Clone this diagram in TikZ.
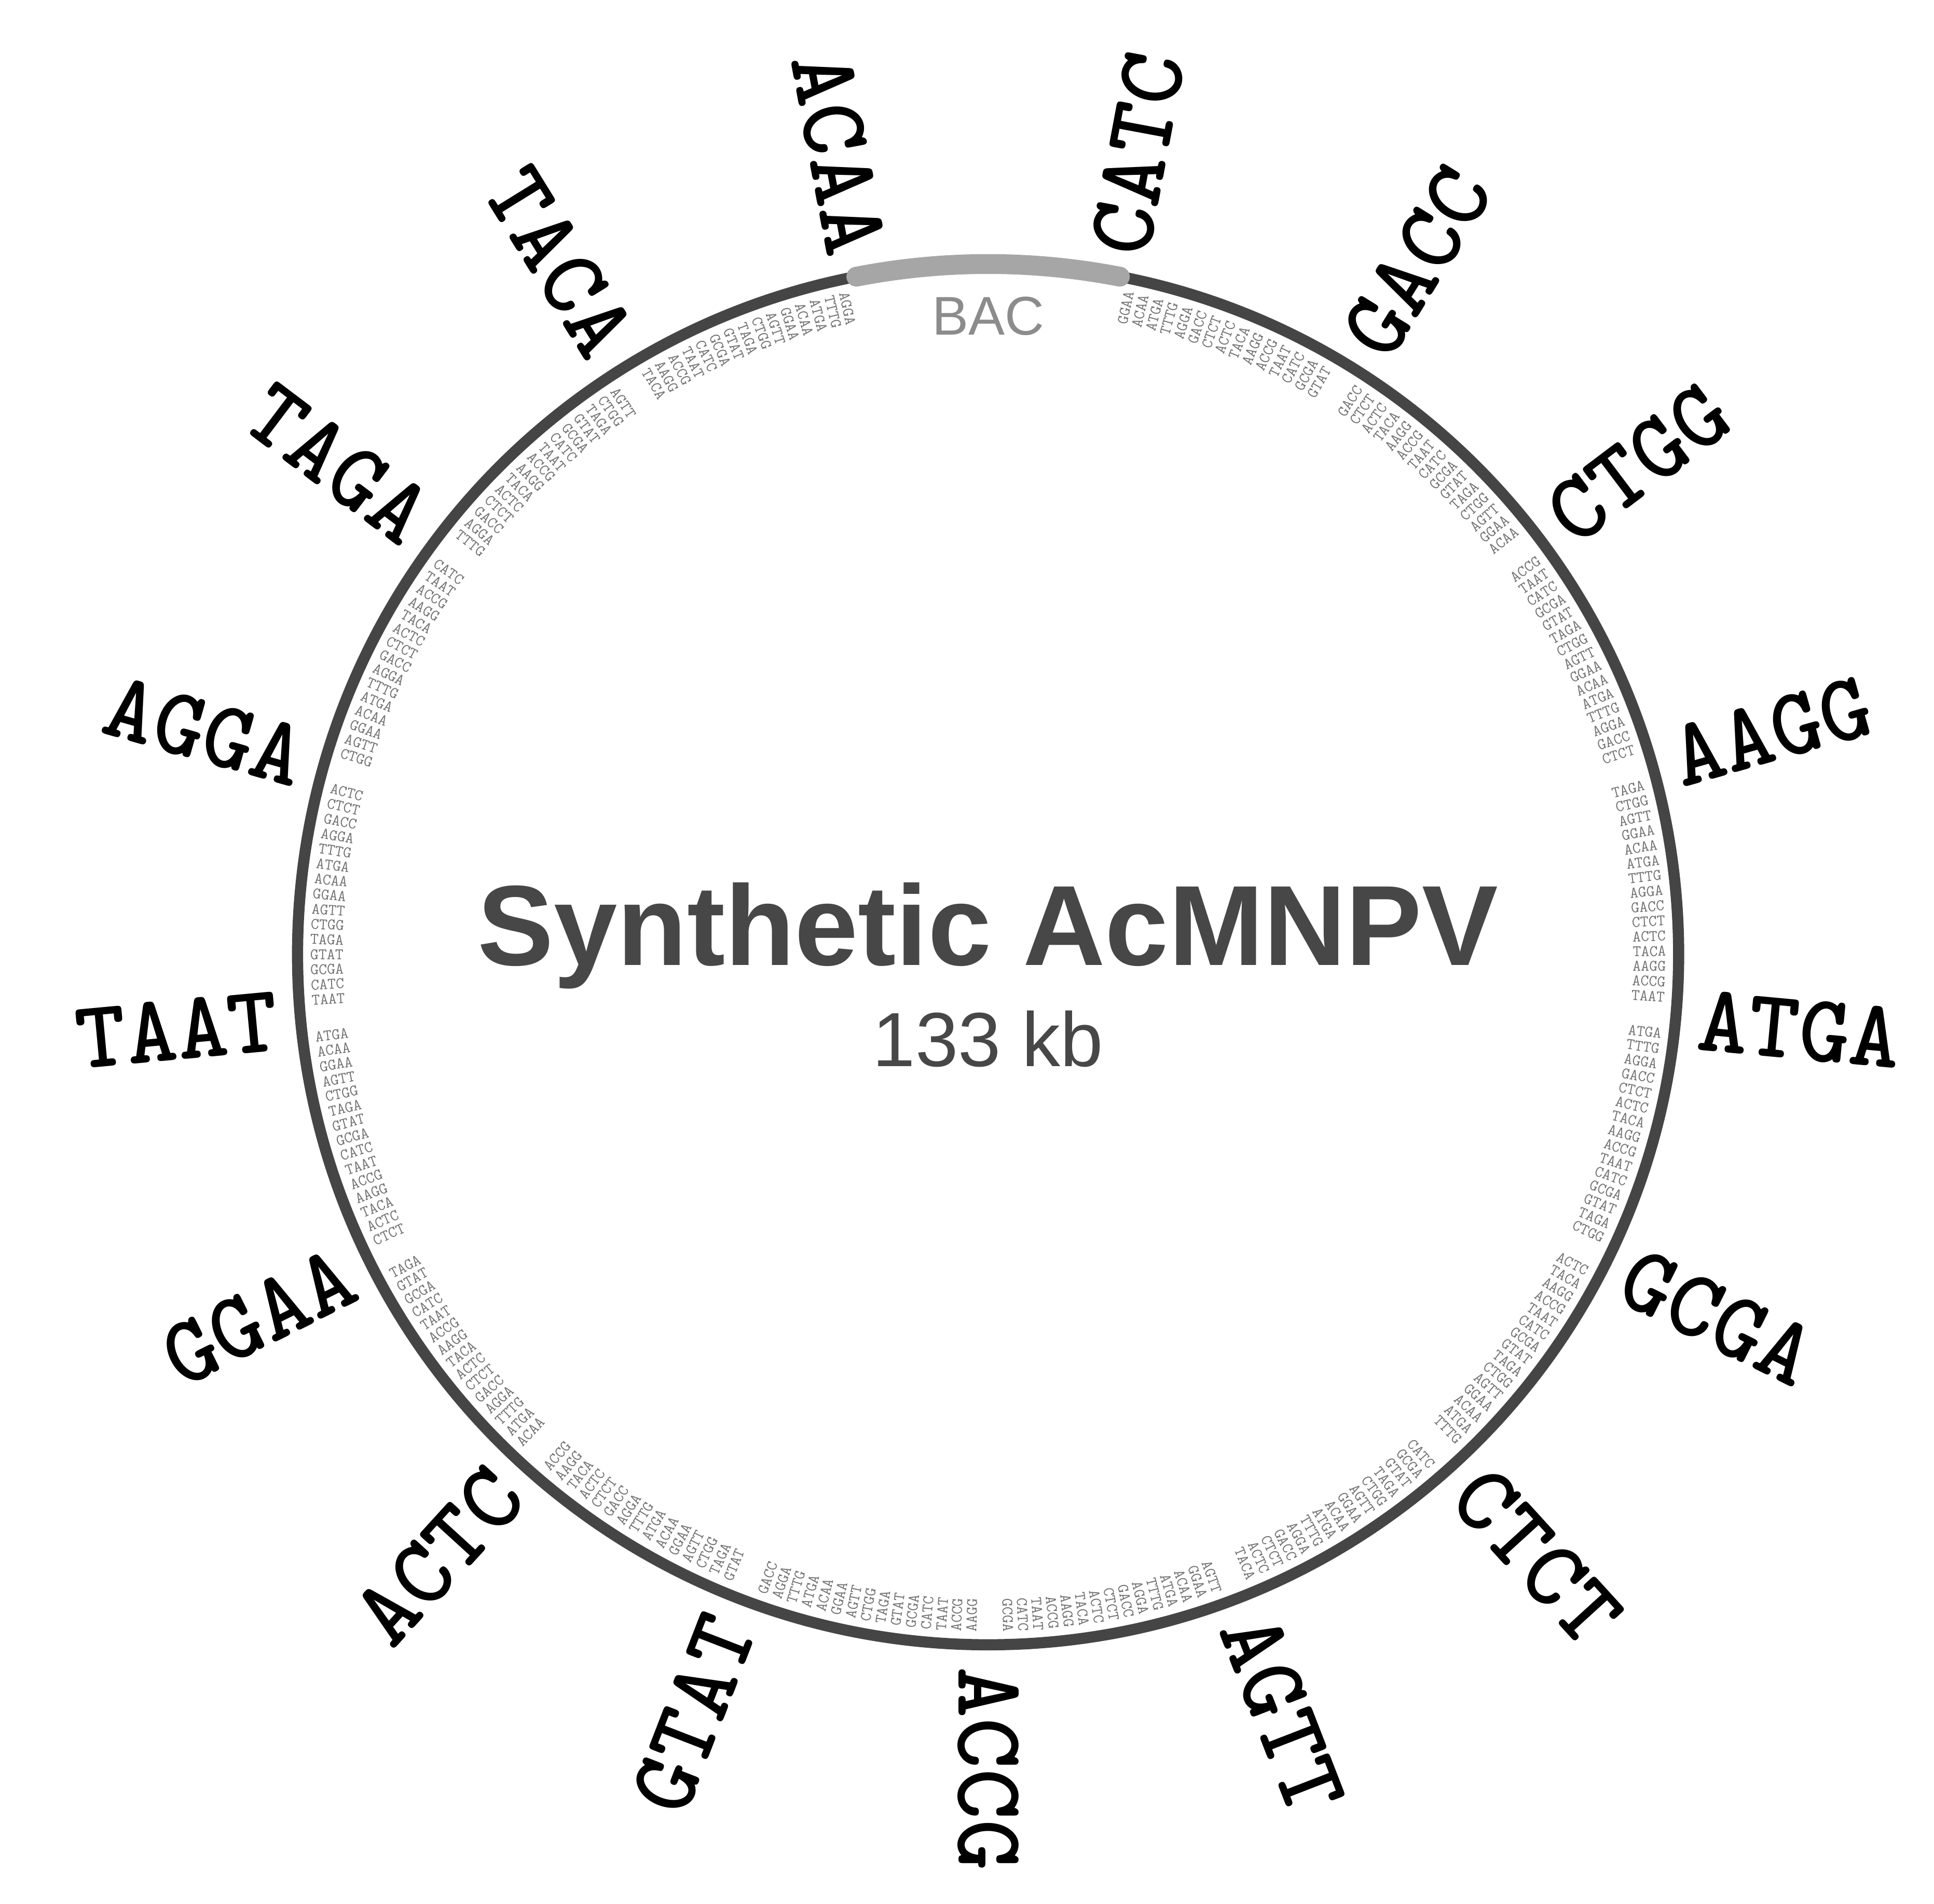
\documentclass[tikz,border=0pt]{standalone}
\usepackage{fontspec}
\usetikzlibrary{calc}
\setmainfont{Liberation Sans}
\newcommand\wordof[1]{\ifcase#1 ACCG\or AGTT\or CTCT\or GCGA\or ATGA\or AAGG\or CTGG\or GACC\or CATC\or ACAA\or TACA\or TAGA\or AGGA\or TAAT\or GGAA\or ACTC\or GTAT\or TTTG\fi}
\begin{document}
\begin{tikzpicture}[x=1pt,y=1pt,
  lab/.style={font=\ttfamily\fontsize{78}{78}\bfseries\selectfont,inner sep=0pt,text=black},
  wrd/.style={font=\ttfamily\fontsize{13}{13}\selectfont,inner sep=0pt,text=black!55}]
\useasboundingbox (0,0) rectangle (1560,-1536);
\coordinate (C) at (797,-770);
\draw[line width=9pt,color=black!73] (C) circle (557);
\draw[line width=16pt,color=black!35,line cap=round] ($(C)+(101:557)$) arc (101:79:557);
\node[font=\fontsize{44}{44}\selectfont,text=black!45] (bac) at (797,-255) {BAC};
\node[font=\fontsize{92}{92}\bfseries\selectfont,text=black!72] (title) at (797,-755) {Synthetic AcMNPV};
\node[font=\fontsize{62}{62}\selectfont,text=black!72] (size) at (797,-838) {133 kb};
\foreach \lab [count=\i from 0] in {ACCG,AGTT,CTCT,GCGA,ATGA,AAGG,CTGG,GACC,CATC,ACAA,TACA,TAGA,AGGA,TAAT,GGAA,ACTC,GTAT}{
  \pgfmathsetmacro\ang{-90+\i*360/17}
  \pgfmathsetmacro\cc{cos(\ang)}
  \ifdim\cc pt>-0.001pt
    \node[lab,rotate=\ang,anchor=west] (L\i) at ($(C)+(\ang:575)$) {\lab};
  \else
    \pgfmathsetmacro\rot{\ang+180}
    \node[lab,rotate=\rot,anchor=east] (L\i) at ($(C)+(\ang:575)$) {\lab};
  \fi
}
\foreach \i in {0,...,16}{
  \ifnum\i=8\else
  \foreach \k in {0,...,14}{
    \pgfmathsetmacro\ang{-90+\i*360/17+1.7+\k*1.29}
    \pgfmathtruncatemacro\idx{mod(\i*7+\k*5+3,18)}
    \pgfmathsetmacro\cc{cos(\ang)}
    \ifdim\cc pt>-0.001pt
      \node[wrd,rotate=\ang,anchor=east] (w\i-\k) at ($(C)+(\ang:547)$) {\wordof{\idx}};
    \else
      \pgfmathsetmacro\rot{\ang+180}
      \node[wrd,rotate=\rot,anchor=west] (w\i-\k) at ($(C)+(\ang:547)$) {\wordof{\idx}};
    \fi
  }
  \fi
}
\end{tikzpicture}
\end{document}
